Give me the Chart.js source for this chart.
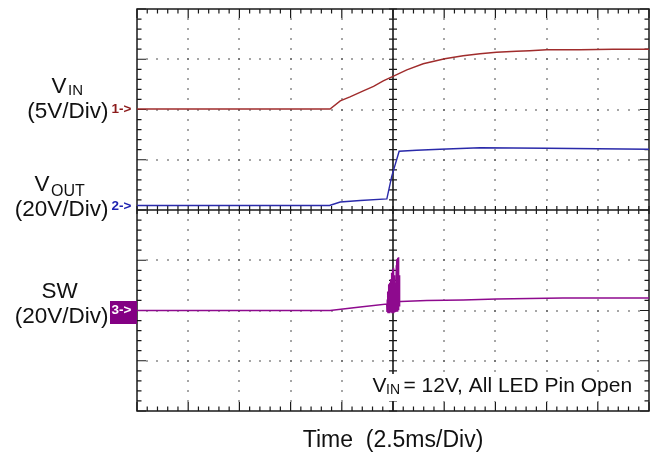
<!DOCTYPE html>
<html>
<head>
<meta charset="utf-8">
<script src="https://cdn.jsdelivr.net/npm/chart.js@4.4.1/dist/chart.umd.min.js"></script>
<style>
  html, body { margin: 0; padding: 0; background: #fff; }
  #wrap { width: 661px; height: 460px; position: relative; }
</style>
</head>
<body>
<div id="wrap"><canvas id="c" width="661" height="460"></canvas></div>
<script>
// ---- data (time in divisions 0..10, level in divisions -4..4) ----
const vinT  = [0, 3.77, 3.97, 4.16, 4.42, 4.62, 4.81, 5.0, 5.27, 5.59, 6.01, 6.37, 6.70, 7.02, 7.41, 7.67, 8.0, 8.65, 9.3, 10];
const vinY  = [2.01, 2.01, 2.17, 2.25, 2.37, 2.46, 2.57, 2.66, 2.79, 2.91, 3.01, 3.07, 3.11, 3.14, 3.16, 3.17, 3.19, 3.19, 3.20, 3.20];

const voutT = [0, 3.76, 3.97, 4.36, 4.88, 4.975, 5.12, 5.46, 5.92, 6.70, 8.0, 10];
const voutY = [0.09, 0.09, 0.16, 0.19, 0.22, 0.67, 1.17, 1.19, 1.21, 1.24, 1.23, 1.21];

const swT = [0, 3.77, 4.36,
  4.877, 4.882, 4.888, 4.893, 4.899, 4.904, 4.910, 4.915, 4.921, 4.926, 4.932, 4.937, 4.943, 4.948, 4.954, 4.959,
  4.965, 4.970, 4.976, 4.981, 4.987, 4.992, 4.998, 5.003, 5.009, 5.014, 5.020, 5.025, 5.031, 5.036, 5.042, 5.047,
  5.053, 5.058, 5.064, 5.069, 5.075, 5.080, 5.086, 5.091, 5.097, 5.102, 5.108, 5.113, 5.119, 5.124, 5.135, 5.15,
  5.66, 6.37, 7.02, 8.32, 10];
const swY = [-2.0, -2.0, -1.93,
  -1.87, -2.03, -1.78, -2.04, -1.62, -2.04, -1.48, -2.04, -1.70, -2.04, -1.45, -2.04, -1.60, -2.04, -1.38, -2.04,
  -1.50, -2.04, -1.25, -2.04, -1.18, -2.04, -1.40, -2.04, -1.15, -2.04, -1.55, -2.04, -1.30, -2.03, -1.60, -2.03,
  -1.45, -2.03, -1.10, -2.02, -0.98, -2.01, -1.20, -2.00, -0.95, -1.98, -0.94, -1.96, -1.30, -1.92, -1.82, -1.82,
  -1.80, -1.79, -1.77, -1.75, -1.75];

const timeDivs = 10;     // horizontal divisions
const levelDivs = 8;     // vertical divisions
const minorPerDiv = 5;

const xTitle = 'Time  (2.5ms/Div)';
const noteMain = 'V';
const noteSub = 'IN';
const noteRest = '= 12V, All LED Pin Open';

const FONT = "'Liberation Sans', Arial, Helvetica, sans-serif";

const pts = (t, v) => t.map((x, i) => ({ x, y: v[i] }));

const graticule = {
  id: 'graticule',
  beforeDatasetsDraw(chart) {
    const { ctx, chartArea: a, scales: { x, y } } = chart;
    ctx.save();
    // dotted grid
    ctx.fillStyle = '#4a4a4a';
    const xCenter = timeDivs / 2, yCenter = 0;
    for (let i = 1; i < timeDivs; i++) {
      if (i === xCenter) continue;
      const px = Math.round(x.getPixelForValue(i));
      for (let j = 1; j < levelDivs * minorPerDiv; j++) {
        const py = Math.round(y.getPixelForValue(-levelDivs / 2 + j / minorPerDiv));
        ctx.fillRect(px - 0.7, py - 0.7, 1.4, 1.4);
      }
    }
    for (let i = -levelDivs / 2 + 1; i < levelDivs / 2; i++) {
      if (i === yCenter) continue;
      const py = Math.round(y.getPixelForValue(i));
      for (let j = 1; j < timeDivs * minorPerDiv; j++) {
        const px = Math.round(x.getPixelForValue(j / minorPerDiv));
        ctx.fillRect(px - 0.7, py - 0.7, 1.4, 1.4);
      }
    }
    // frame
    ctx.strokeStyle = '#1a1a1a';
    ctx.lineWidth = 1.5;
    ctx.strokeRect(a.left, a.top, a.right - a.left, a.bottom - a.top);
    // border ticks + center axes
    const cx = x.getPixelForValue(xCenter);
    const cy = y.getPixelForValue(yCenter);
    ctx.beginPath();
    ctx.lineWidth = 1.2;
    for (let j = 0; j <= timeDivs * minorPerDiv; j++) {
      const px = x.getPixelForValue(j / minorPerDiv);
      const len = (j % minorPerDiv === 0) ? 9 : 4.5;
      ctx.moveTo(px, a.top); ctx.lineTo(px, a.top + len);
      ctx.moveTo(px, a.bottom); ctx.lineTo(px, a.bottom - len);
      ctx.moveTo(px, cy - 4); ctx.lineTo(px, cy + 4);
    }
    for (let j = 0; j <= levelDivs * minorPerDiv; j++) {
      const py = y.getPixelForValue(-levelDivs / 2 + j / minorPerDiv);
      const len = (j % minorPerDiv === 0) ? 9 : 4.5;
      ctx.moveTo(a.left, py); ctx.lineTo(a.left + len, py);
      ctx.moveTo(a.right, py); ctx.lineTo(a.right - len, py);
      ctx.moveTo(cx - 4, py); ctx.lineTo(cx + 4, py);
    }
    ctx.stroke();
    ctx.beginPath();
    ctx.lineWidth = 1.6;
    ctx.moveTo(cx, a.top); ctx.lineTo(cx, a.bottom);
    ctx.moveTo(a.left, cy); ctx.lineTo(a.right, cy);
    ctx.stroke();
    ctx.restore();
  }
};

const labels = {
  id: 'labels',
  afterDraw(chart) {
    const { ctx, chartArea: a, scales: { x, y } } = chart;
    const yVin = y.getPixelForValue(vinY[0]);
    const yVout = y.getPixelForValue(voutY[0]);
    const ySw = y.getPixelForValue(swY[0]);
    ctx.save();
    ctx.textBaseline = 'alphabetic';
    ctx.fillStyle = '#111';
    // VIN
    ctx.textAlign = 'left';
    ctx.font = '22.5px ' + FONT;
    ctx.fillText('V', 51.5, yVin - 16);
    ctx.font = '15px ' + FONT;
    ctx.fillText('IN', 68, yVin - 14);
    ctx.textAlign = 'right';
    ctx.font = '22.5px ' + FONT;
    ctx.fillText('(5V/Div)', 108.5, yVin + 9);
    // VOUT
    ctx.textAlign = 'left';
    ctx.font = '22.5px ' + FONT;
    ctx.fillText('V', 34.5, yVout - 14);
    ctx.font = '16px ' + FONT;
    ctx.fillText('OUT', 51, yVout - 9.5);
    ctx.textAlign = 'right';
    ctx.font = '22.5px ' + FONT;
    ctx.fillText('(20V/Div)', 108.5, yVout + 11);
    // SW
    ctx.textAlign = 'left';
    ctx.fillText('SW', 41.5, ySw - 13);
    ctx.textAlign = 'right';
    ctx.fillText('(20V/Div)', 108.5, ySw + 12.5);

    // channel markers
    ctx.textAlign = 'left';
    ctx.textBaseline = 'middle';
    ctx.font = 'bold 13.5px ' + FONT;
    ctx.fillStyle = '#8b1a1a';
    ctx.fillText('1->', 111.5, yVin);
    ctx.fillStyle = '#1f23b0';
    ctx.fillText('2->', 111.5, yVout + 1);
    ctx.fillStyle = '#830083';
    ctx.fillRect(110, ySw - 9.5, a.left - 110, 23);
    ctx.fillStyle = '#fff';
    ctx.fillText('3->', 111.5, ySw);

    // x title
    ctx.fillStyle = '#111';
    ctx.textBaseline = 'alphabetic';
    ctx.textAlign = 'center';
    ctx.font = '23px ' + FONT;
    ctx.fillText(xTitle, x.getPixelForValue(timeDivs / 2), a.bottom + 35.5);

    // note (on a white patch, as in the scope capture)
    ctx.fillStyle = '#fff';
    ctx.fillRect(369, 374, 269, 27);
    ctx.fillStyle = '#111';
    ctx.textAlign = 'left';
    ctx.font = '21px ' + FONT;
    ctx.fillText(noteMain, 372.5, 392.3);
    ctx.font = '14px ' + FONT;
    ctx.fillText(noteSub, 386, 393.5);
    ctx.font = '21px ' + FONT;
    ctx.fillText(noteRest, 403.5, 392.3);
    ctx.restore();
  }
};

new Chart(document.getElementById('c'), {
  type: 'line',
  data: {
    datasets: [
      { label: 'VIN', data: pts(vinT, vinY), borderColor: '#a02c2c', borderWidth: 1.4, pointRadius: 0, tension: 0 },
      { label: 'VOUT', data: pts(voutT, voutY), borderColor: '#2a2aaa', borderWidth: 1.4, pointRadius: 0, tension: 0 },
      { label: 'SW', data: pts(swT, swY), borderColor: '#8e0a8e', borderWidth: 1.4, pointRadius: 0, tension: 0 }
    ]
  },
  options: {
    responsive: false,
    animation: false,
    events: [],
    layout: { padding: { left: 137, right: 12, top: 9, bottom: 49 } },
    plugins: { legend: { display: false }, tooltip: { enabled: false } },
    scales: {
      x: { type: 'linear', min: 0, max: timeDivs, display: false },
      y: { type: 'linear', min: -levelDivs / 2, max: levelDivs / 2, display: false }
    }
  },
  plugins: [graticule, labels]
});
</script>
</body>
</html>
